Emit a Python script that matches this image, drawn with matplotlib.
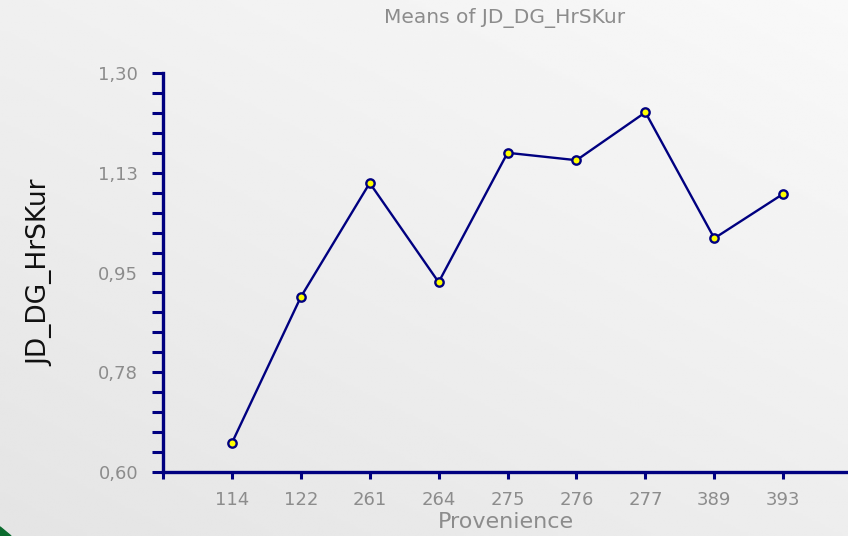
import numpy as np
import matplotlib
matplotlib.use("Agg")
import matplotlib.pyplot as plt
from matplotlib.ticker import FixedLocator
from matplotlib.patches import Polygon

# group means of JD_DG_HrSKur by provenience
provenience = ["114", "122", "261", "264", "275", "276", "277", "389", "393"]
means = [0.651, 0.907, 1.107, 0.933, 1.160, 1.147, 1.231, 1.010, 1.088]
ytick_labels = ["0,60", "0,78", "0,95", "1,13", "1,30"]

navy = "#000080"
grey_txt = "#8c8c8c"

fig = plt.figure(figsize=(8.48, 5.36), dpi=100)

# soft background shading, lighter towards the top right
bg = fig.add_axes([0, 0, 1, 1], zorder=-10)
gx, gy = np.meshgrid(np.linspace(0, 1, 200), np.linspace(0, 1, 200))
shade = 0.895 + 0.035 * gx + 0.045 * gy
bg.imshow(shade, cmap="gray", vmin=0, vmax=1, origin="lower",
          extent=[0, 1, 0, 1], aspect="auto")
bg.add_patch(Polygon([[0, 0], [0.013, 0], [0, 0.017]], closed=True,
                     color="#0b6b2e"))
bg.set_xlim(0, 1)
bg.set_ylim(0, 1)
bg.axis("off")

ax = fig.add_axes([163 / 848, 1 - 472 / 536, 1 - 163 / 848, (472 - 73) / 536])
ax.patch.set_alpha(0)

x = np.arange(1, len(provenience) + 1)
ax.plot(x, means, color=navy, lw=1.7, marker="o", ms=6,
        mfc="yellow", mec=navy, mew=1.7, clip_on=False)

ax.set_xlim(0, 9.94)
ax.set_ylim(0.60, 1.30)

for s in ["top", "right"]:
    ax.spines[s].set_visible(False)
for s in ["left", "bottom"]:
    ax.spines[s].set_color(navy)
    ax.spines[s].set_linewidth(2.4)

ax.xaxis.set_major_locator(FixedLocator(np.arange(0, len(provenience) + 1)))
ax.set_xticklabels([""] + provenience)
ax.yaxis.set_major_locator(FixedLocator(np.linspace(0.60, 1.30, 5)))
ax.set_yticklabels(ytick_labels)
# four minor steps between each pair of labelled values
ax.yaxis.set_minor_locator(FixedLocator(np.linspace(0.60, 1.30, 21)))

ax.tick_params(axis="x", direction="out", length=5, width=2.2, color=navy,
               labelsize=13, labelcolor=grey_txt, pad=9)
ax.tick_params(axis="y", which="both", direction="out", length=8, width=2.2,
               color=navy, labelsize=13, labelcolor=grey_txt, pad=10)

ax.set_xlabel("Provenience", fontsize=16, color=grey_txt, labelpad=2)
ax.set_ylabel("JD_DG_HrSKur", fontsize=19, color="#111111", labelpad=32)
fig.text(505 / 848, 1 - 18 / 536, "Means of JD_DG_HrSKur", fontsize=14.5,
         color=grey_txt, ha="center", va="center")

fig.savefig("out.png", dpi=100)
